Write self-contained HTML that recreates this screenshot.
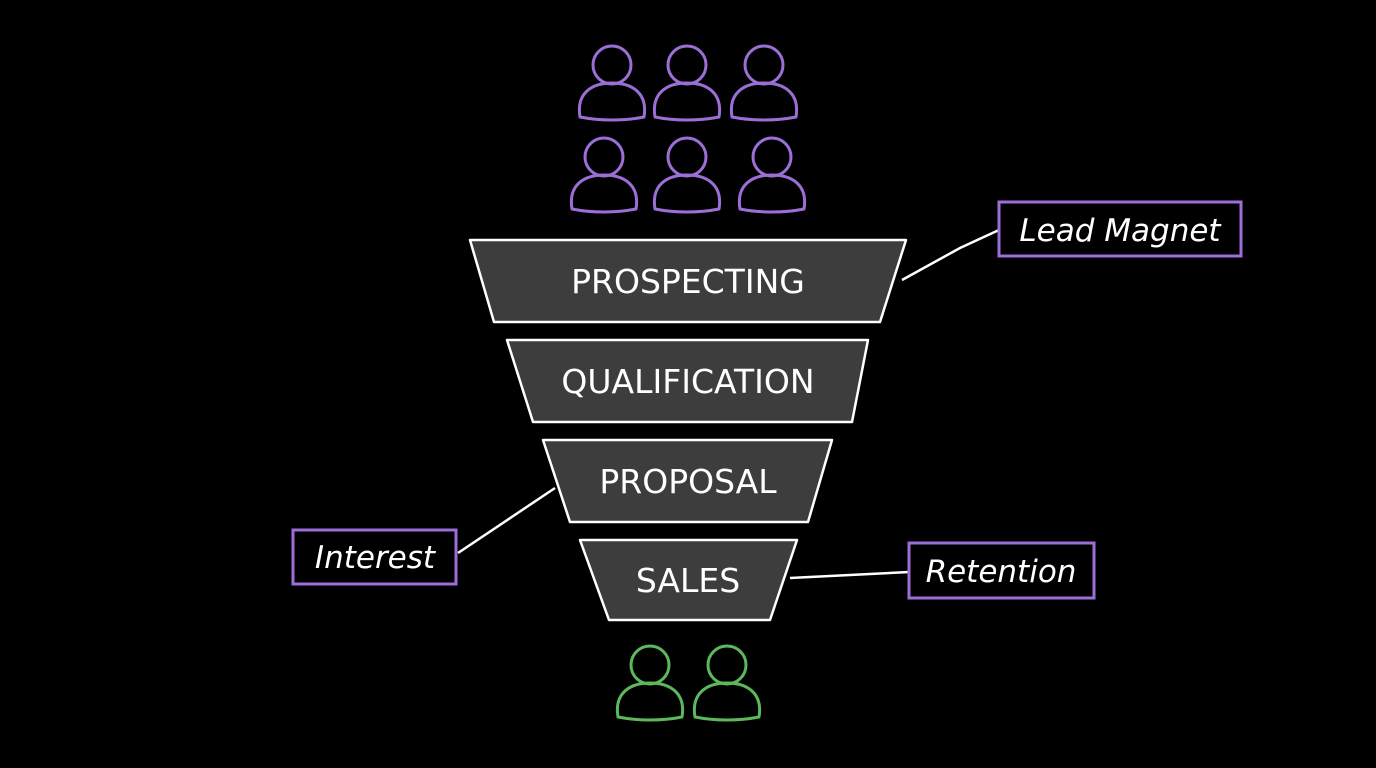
<!DOCTYPE html>
<html><head><meta charset="utf-8"><style>
html,body{margin:0;padding:0;background:#000;}
svg{display:block}
</style></head><body>
<svg width="1376" height="768" viewBox="0 0 1376 768" xmlns="http://www.w3.org/2000/svg">
<rect width="1376" height="768" fill="#000"/>
<defs>
  <g id="pp">
    <circle cx="0" cy="-36" r="19"/>
    <path d="M-32,16 C-36,-8 -20,-18 0,-18 C20,-18 36,-8 32,16 C12,20 -12,20 -32,16 Z"/>
  </g>
</defs>
<g fill="none" stroke="#9b6fd6" stroke-width="3" stroke-linecap="round" stroke-linejoin="round">
  <use href="#pp" x="612" y="101"/>
  <use href="#pp" x="687" y="101"/>
  <use href="#pp" x="764" y="101"/>
  <use href="#pp" x="604" y="193"/>
  <use href="#pp" x="687" y="193"/>
  <use href="#pp" x="772" y="193"/>
</g>
<g fill="none" stroke="#5cb85c" stroke-width="3" stroke-linecap="round" stroke-linejoin="round">
  <use href="#pp" x="650" y="701"/>
  <use href="#pp" x="727" y="701"/>
</g>
<g fill="#3d3d3d" stroke="#fff" stroke-width="2.5" stroke-linejoin="round">
  <polygon points="470,240 906,240 880,322 494,322"/>
  <polygon points="507,340 868,340 852,422 533,422"/>
  <polygon points="543,440 832,440 808,522 570,522"/>
  <polygon points="580,540 797,540 770,620 609,620"/>
</g>
<g stroke="#fff" stroke-width="2.5" fill="none">
  <path d="M902,280 L960,248 L999,230"/>
  <path d="M555,488 L458,553"/>
  <path d="M790,578 L909,572"/>
</g>
<g fill="#000" stroke="#9b6fd6" stroke-width="3">
  <rect x="999" y="202" width="242" height="54"/>
  <rect x="293" y="530" width="163" height="54"/>
  <rect x="909" y="543" width="185" height="55"/>
</g>
<g fill="#fff" font-family="'DejaVu Sans','Liberation Sans',sans-serif" text-anchor="middle">
  <text x="688" y="293" font-size="33">PROSPECTING</text>
  <text x="688" y="393" font-size="33">QUALIFICATION</text>
  <text x="688" y="493" font-size="33">PROPOSAL</text>
  <text x="688" y="592" font-size="33">SALES</text>
  <text x="1120" y="241" font-size="31" font-style="italic">Lead Magnet</text>
  <text x="375" y="568" font-size="31" font-style="italic">Interest</text>
  <text x="1001" y="582" font-size="31" font-style="italic">Retention</text>
</g>
</svg>
</body></html>
